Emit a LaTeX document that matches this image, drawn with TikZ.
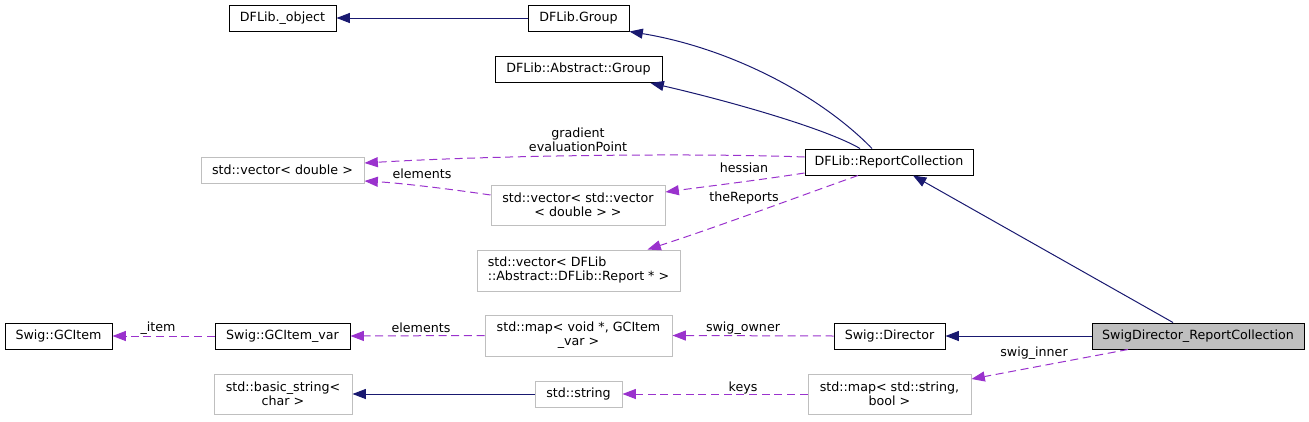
\documentclass[tikz,border=0pt]{standalone}
\usepackage{fontspec}
\setmainfont{DejaVu Sans}
\usetikzlibrary{arrows.meta,calc}
\definecolor{navyc}{HTML}{191970}
\definecolor{purp}{HTML}{9A32CD}
\definecolor{grayb}{HTML}{BFBFBF}
\begin{document}
\begin{tikzpicture}[x=0.75pt,y=-0.75pt,
  every node/.style={font=\fontsize{9.5}{10.5}\selectfont, inner sep=0pt},
  cls/.style={draw=black, line width=0.75pt, fill=white, minimum width=#1*0.75pt},
  ext/.style={draw=grayb, line width=0.75pt, fill=white, minimum width=#1*0.75pt},
  h1/.style={minimum height=26*0.75pt},
  h2/.style={minimum height=40*0.75pt},
  inh/.style={draw=navyc, line width=0.75pt, -{Triangle[length=10pt,width=7.5pt]}},
  use/.style={draw=purp, line width=0.75pt, dash pattern=on 6pt off 3.5pt, -{Triangle[length=10pt,width=7.5pt]}},
  lbl/.style={align=center, fill=none}]
\useasboundingbox (0,0) rectangle (1309,421);
% nodes
\node[cls=107,h1] (obj) at (282.5,18) {DFLib.\_object};
\node[cls=101,h1] (grp) at (578.5,18) {DFLib.Group};
\node[cls=167,h1] (agrp) at (578.5,69.5) {DFLib::Abstract::Group};
\node[ext=163,h1] (vecd) at (282.5,170) {std::vector< double >};
\node[cls=168,h1] (rc) at (889,162) {DFLib::ReportCollection};
\node[ext=174,h2,align=center] (vecvec) at (578,205) {std::vector< std::vector\\< double > >};
\node[ext=203,minimum height=41*0.75pt,align=left] (vecrep) at (578.5,270.5) {std::vector< DFLib\\::Abstract::DFLib::Report * >};
\node[cls=107,h1] (gci) at (58.5,336) {Swig::GCItem};
\node[cls=135,h1] (gcv) at (282.5,336) {Swig::GCItem\_var};
\node[ext=138,h2,align=center] (bstr) at (283,394) {std::basic\_string<\\char >};
\node[ext=187,minimum height=41*0.75pt,align=center] (mapv) at (578.5,335.5) {std::map< void *, GCItem\\\_var >};
\node[ext=87,h1] (str) at (578.5,394) {std::string};
\node[cls=111,h1] (dir) at (889.5,336) {Swig::Director};
\node[ext=163,h2,align=center] (maps) at (889.5,394) {std::map< std::string,\\bool >};
\node[cls=212,h1,fill=grayb] (sdrc) at (1198,336) {SwigDirector\_ReportCollection};
% inheritance
\draw[inh] (grp.west) -- (obj.east);
\draw[inh] ($(rc.north)+(-17,0)$) .. controls (820,95) and (730,48) .. (grp.south east);
\draw[inh] ($(rc.north)+(-29,0)$) .. controls (825,128) and (725,100) .. ($(agrp.south)+(72,0)$);
\draw[inh] ($(sdrc.north)+(-25,0)$) -- ($(rc.south)+(24,0)$);
\draw[inh] (sdrc.west) -- (dir.east);
\draw[inh] (str.west) -- (bstr.east);
% usage
\draw[use] ($(rc.west)+(0,-5)$) .. controls (700,153) and (500,155) .. ($(vecd.east)+(0,-7)$);
\node[lbl] (lgrad) at (578,140) {gradient\\evaluationPoint};
\draw[use] ($(vecvec.west)+(0,-10)$) .. controls (450,189) and (400,183) .. ($(vecd.east)+(0,11)$);
\node[lbl] (lel1) at (422,174) {elements};
\draw[use] ($(rc.west)+(0,11)$) .. controls (760,180) and (710,186) .. ($(vecvec.east)+(0,-13)$);
\node[lbl] (lhes) at (744,168) {hessian};
\draw[use] ($(rc.south)+(-31,0)$) .. controls (800,196) and (720,226) .. ($(vecrep.north)+(69,0)$);
\node[lbl] (lrep) at (744,198) {theReports};
\draw[use] (dir.west) -- (mapv.east);
\node[lbl] (lown) at (743,328) {swig\_owner};
\draw[use] (mapv.west) -- (gcv.east);
\node[lbl] (lel2) at (421,328) {elements};
\draw[use] (gcv.west) -- (gci.east);
\node[lbl] (litem) at (158,328) {\_item};
\draw[use] ($(sdrc.south)+(-70,0)$) -- ($(maps.east)+(0,-15)$);
\node[lbl] (linner) at (1034,353) {swig\_inner};
\draw[use] (maps.west) -- (str.east);
\node[lbl] (lkeys) at (743,388) {keys};
\end{tikzpicture}
\end{document}
